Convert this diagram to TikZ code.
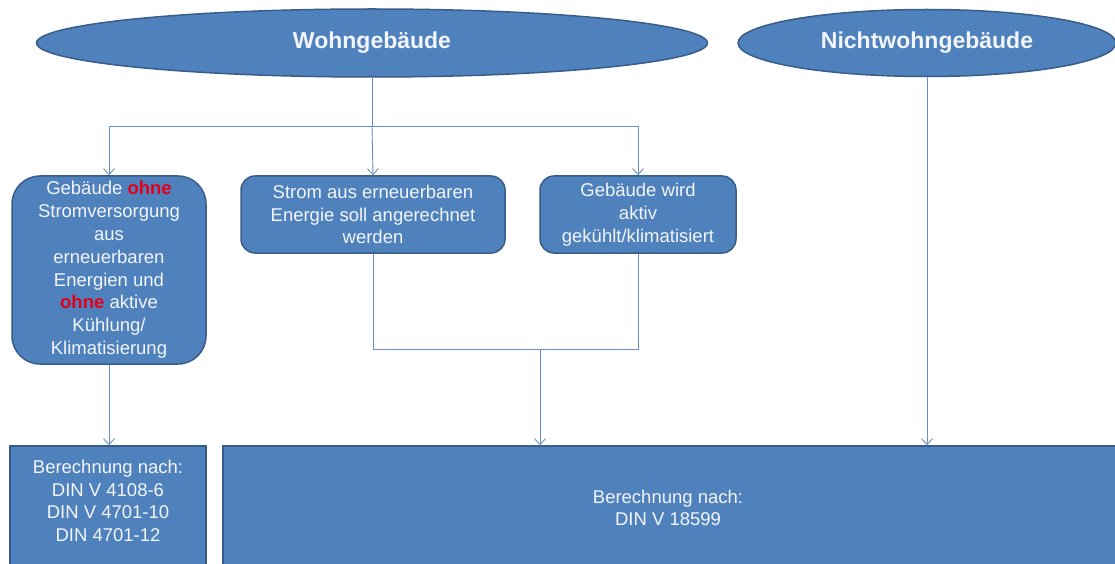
\documentclass[tikz,border=0pt]{standalone}
\usepackage{fontspec}
\setmainfont{Liberation Sans}
\usetikzlibrary{arrows.meta,shapes.geometric}
\definecolor{boxfill}{HTML}{4F81BD}
\definecolor{boxline}{HTML}{385D8A}
\definecolor{connc}{HTML}{6A8EC0}
\definecolor{redtxt}{HTML}{E2001A}
\definecolor{txtc}{HTML}{F2F5FA}
\begin{document}
\begin{tikzpicture}[x=1pt,y=-1pt,
  ell/.style={ellipse, draw=boxline, line width=1.5pt, fill=boxfill, text=txtc,
    font=\fontsize{23}{27}\selectfont\bfseries, inner sep=0pt},
  rbox/.style={draw=boxline, line width=1.5pt, fill=boxfill, text=txtc,
    font=\fontsize{18.5}{22.8}\selectfont, align=center, inner sep=0pt},
  btxt/.style={text=txtc, font=\fontsize{18.5}{22.5}\selectfont, align=center, inner sep=0pt},
  conn/.style={draw=connc, line width=0.9pt},
  arr/.style={conn, -{Straight Barb[length=6pt,width=11pt]}}]
\clip (0,0) rectangle (1115,564);
\fill[white] (0,0) rectangle (1115,564);
% ellipses
\node[ell, minimum width=671pt, minimum height=68pt] (wohn) at (372,43) {Wohngebäude};
\node[ell, minimum width=378pt, minimum height=67pt] (nwohn) at (927,43) {Nichtwohngebäude};
% middle boxes
\node[rbox, rounded corners=28pt, minimum width=194pt, minimum height=188pt] (b1) at (109,270)
  {Gebäude \textcolor{redtxt}{\bfseries ohne}\\Stromversorgung\\aus\\erneuerbaren\\Energien und\\\textcolor{redtxt}{\bfseries ohne} aktive\\Kühlung/\\Klimatisierung};
\node[rbox, rounded corners=14pt, minimum width=264pt, minimum height=77pt] (b2) at (373,214.5)
  {Strom aus erneuerbaren\\Energie soll angerechnet\\werden};
\node[rbox, rounded corners=14pt, minimum width=196pt, minimum height=77pt] (b3) at (638,214.5)
  {Gebäude wird\\aktiv\\gekühlt/klimatisiert};
% bottom boxes
\node[rbox, minimum width=196pt, minimum height=160pt] (c1) at (108,526) {};
\node[rbox, minimum width=910pt, minimum height=160pt] (c2) at (678,526) {};
\node[btxt] (c1t) at (108,501) {Berechnung nach:\\DIN V 4108-6\\DIN V 4701-10\\DIN 4701-12};
\node[btxt] (c2t) at (668,508) {Berechnung nach:\\DIN V 18599};
% connectors
\coordinate (j1) at (372,126);
\coordinate (j2) at (540,349);
\draw[conn] (wohn.south) -- (j1);
\draw[arr] (j1) -| (b1.north);
\draw[arr] (j1) -- (b2.north);
\draw[arr] (j1) -| (b3.north);
\draw[conn] (b2.south) -- (b2.south |- j2) -- (b3.south |- j2) -- (b3.south);
\draw[arr] (j2) -- (j2 |- c2.north);
\draw[arr] (b1.south) -- (b1.south |- c1.north);
\draw[arr] (nwohn.south) -- (nwohn.south |- c2.north);
\end{tikzpicture}
\end{document}
